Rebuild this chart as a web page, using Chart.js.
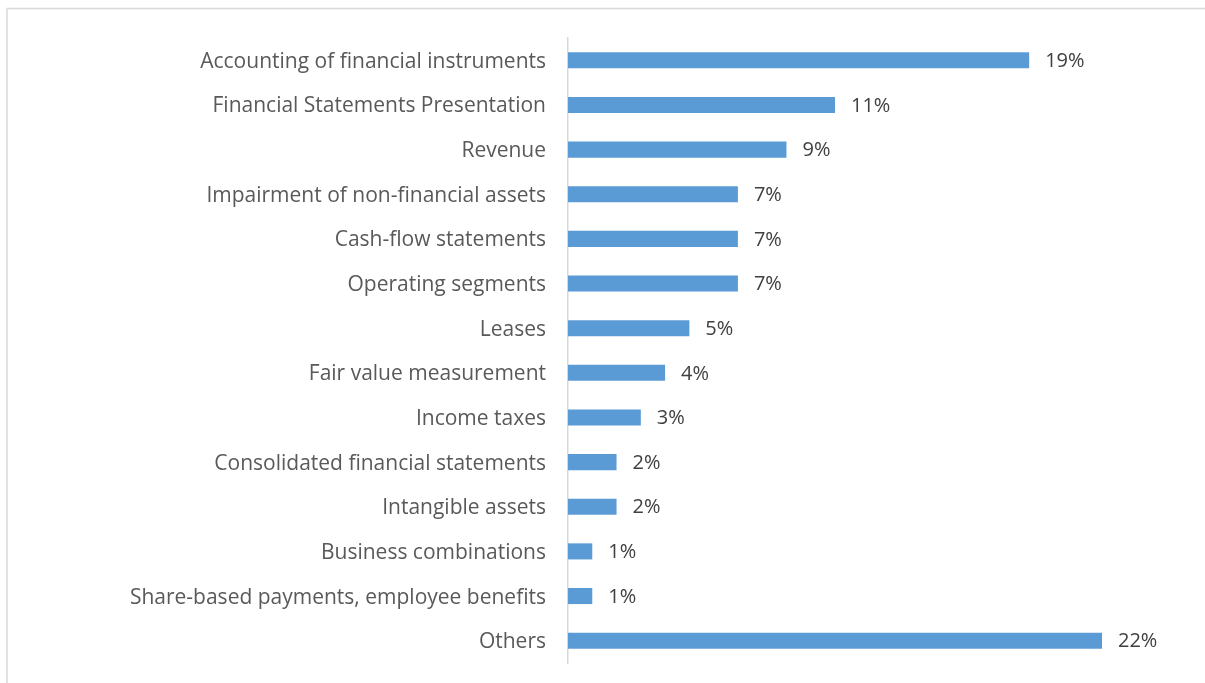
<!DOCTYPE html>
<html>
<head>
<meta charset="utf-8">
<script src="https://cdn.jsdelivr.net/npm/chart.js@4"></script>
<style>
  html, body { margin: 0; padding: 0; background: #ffffff; }
  #wrap { position: relative; width: 1205px; height: 683px; }
</style>
</head>
<body>
<div id="wrap"><canvas id="chart" width="1205" height="683"></canvas></div>
<script>
// Topics and their share of findings (percent)
const categories = [
  'Accounting of financial instruments',
  'Financial Statements Presentation',
  'Revenue',
  'Impairment of non-financial assets',
  'Cash-flow statements',
  'Operating segments',
  'Leases',
  'Fair value measurement',
  'Income taxes',
  'Consolidated financial statements',
  'Intangible assets',
  'Business combinations',
  'Share-based payments, employee benefits',
  'Others'
];
const shares = [19, 11, 9, 7, 7, 7, 5, 4, 3, 2, 2, 1, 1, 22];
const valueLabels = shares.map(v => v + '%');

const FONT = '"Open Sans", Lato, sans-serif';

// Frame lines along the top and left of the chart
const framePlugin = {
  id: 'frame',
  beforeDraw(chart) {
    const ctx = chart.ctx;
    ctx.save();
    ctx.strokeStyle = '#d9d9d9';
    ctx.lineWidth = 1.5;
    ctx.beginPath();
    ctx.moveTo(7, 700);
    ctx.lineTo(7, 8.5);
    ctx.lineTo(1210, 8.5);
    ctx.stroke();
    ctx.restore();
  }
};

// Percentage labels to the right of each bar
const valueLabelPlugin = {
  id: 'valueLabels',
  afterDatasetsDraw(chart) {
    const ctx = chart.ctx;
    const meta = chart.getDatasetMeta(0);
    ctx.save();
    ctx.font = '20px ' + FONT;
    ctx.fillStyle = '#404040';
    ctx.textAlign = 'left';
    ctx.textBaseline = 'middle';
    meta.data.forEach((bar, i) => {
      ctx.fillText(valueLabels[i], bar.x + 16, bar.y + 1);
    });
    ctx.restore();
  }
};

new Chart(document.getElementById('chart'), {
  type: 'bar',
  data: {
    labels: categories,
    datasets: [{
      data: shares,
      backgroundColor: '#5b9bd5',
      borderWidth: 0,
      barPercentage: 0.36,
      categoryPercentage: 1.0
    }]
  },
  options: {
    indexAxis: 'y',
    responsive: false,
    animation: false,
    layout: { padding: { left: 0, right: 103, top: 38, bottom: 20 } },
    plugins: {
      legend: { display: false },
      tooltip: { enabled: false }
    },
    scales: {
      x: {
        display: false,
        min: 0,
        max: 22,
        afterFit(scale) { scale.paddingTop = 0; scale.paddingBottom = 0; scale.height = 0; }
      },
      y: {
        afterFit(scale) { scale.width = 568; scale.paddingTop = 0; scale.paddingBottom = 0; },
        grid: { display: false, drawTicks: false },
        border: { display: true, color: '#d9d9d9', width: 1.5 },
        ticks: {
          color: '#595959',
          font: { family: FONT, size: 21 },
          padding: 22,
          labelOffset: 1.5
        }
      }
    }
  },
  plugins: [framePlugin, valueLabelPlugin]
});
</script>
</body>
</html>
